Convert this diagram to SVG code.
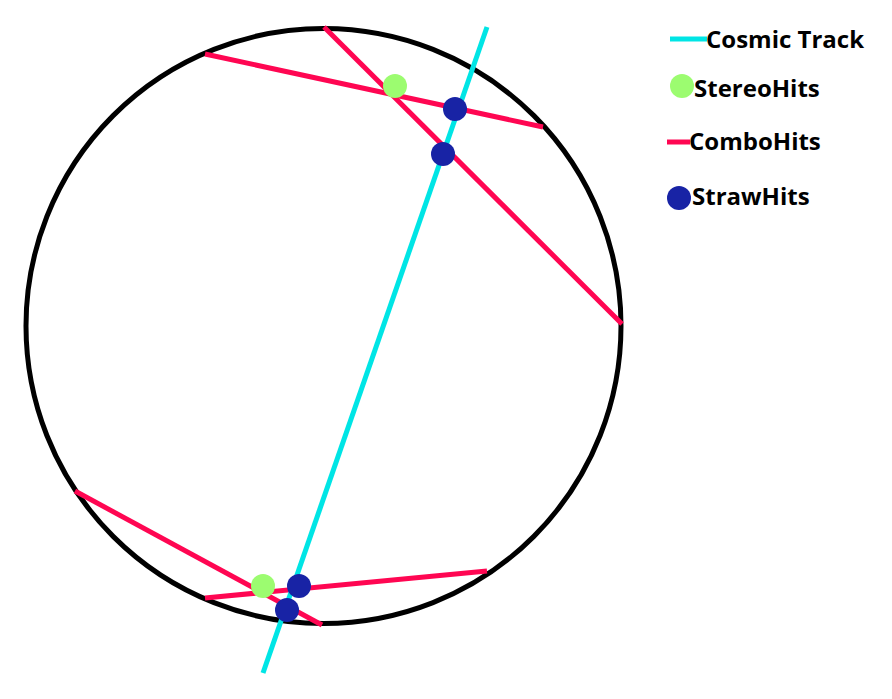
<svg xmlns="http://www.w3.org/2000/svg" width="892" height="699" viewBox="0 0 892 699">
<style>
.combo{stroke:#ff0652;stroke-width:5;fill:none}
.track{stroke:#00e5e5;stroke-width:5;fill:none}
.stereo{fill:#9cfc70}
.straw{fill:#1823a5}
.lbl{font-family:"Open Sans","Liberation Sans",sans-serif;font-weight:bold;font-size:24px;fill:#000}
</style>
<rect width="892" height="699" fill="#fff"/>
<g id="detector">
<circle cx="323.5" cy="326" r="297.5" fill="none" stroke="#000" stroke-width="5"/>
</g>
<g id="connectors">
<line class="combo" x1="205" y1="54" x2="543" y2="127"/>
<line class="combo" x1="324" y1="27" x2="622" y2="324"/>
<line class="combo" x1="75" y1="491" x2="322" y2="625"/>
<line class="combo" x1="205" y1="598" x2="487" y2="571"/>
<line class="track" x1="487" y1="27" x2="263" y2="673"/>
</g>
<g id="stereo-top"><circle class="stereo" cx="395" cy="86" r="12"/></g>
<g id="straw-top1"><circle class="straw" cx="455" cy="109" r="12"/></g>
<g id="straw-top2"><circle class="straw" cx="443" cy="154" r="12"/></g>
<g id="stereo-bottom"><circle class="stereo" cx="263" cy="586" r="12"/></g>
<g id="straw-bottom1"><circle class="straw" cx="299" cy="586" r="12"/></g>
<g id="straw-bottom2"><circle class="straw" cx="287" cy="610" r="12"/></g>
<g id="legend">
<g id="legend-track"><line class="track" x1="670" y1="39" x2="707" y2="39"/><text class="lbl" x="706" y="48">Cosmic Track</text></g>
<g id="legend-stereo"><circle class="stereo" cx="682" cy="86" r="12"/><text class="lbl" x="694" y="97">StereoHits</text></g>
<g id="legend-combo"><line class="combo" x1="667" y1="142" x2="690" y2="142"/><text class="lbl" x="689" y="150">ComboHits</text></g>
<g id="legend-straw"><circle class="straw" cx="679" cy="198" r="12"/><text class="lbl" x="692" y="205">StrawHits</text></g>
</g>
</svg>
